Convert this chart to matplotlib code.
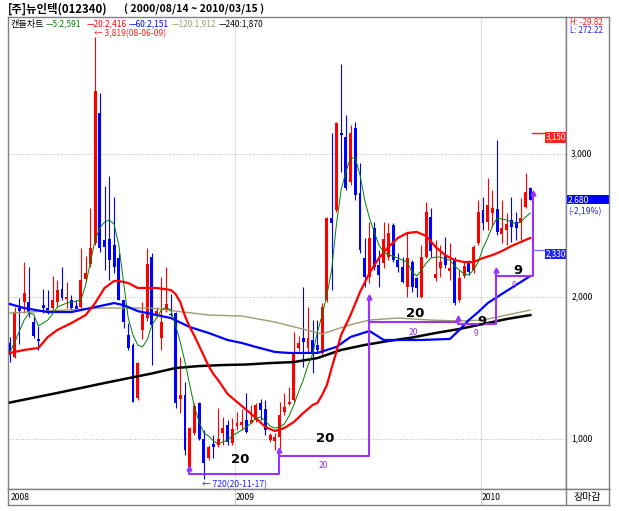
"""
Weekly candle chart of [주]뉴인텍(012340), 2008/02 - 2010/03,
with 5/20/60/120/240 moving averages and the purple cycle brackets.
Saves out.png (619x511).
"""

import pandas as pd
import matplotlib
matplotlib.use("Agg")
import matplotlib.pyplot as plt
from matplotlib.patches import Rectangle

plt.rcParams['font.family'] = ['Noto Sans CJK KR', 'DejaVu Sans']

# ---------------------------------------------------------------------------
# Data
# ---------------------------------------------------------------------------
TITLE = "[주]뉴인텍(012340)"
PERIOD = "( 2000/08/14 ~ 2010/03/15 )"

dates = pd.date_range("2008-02-04", periods=111, freq="W-MON")

opens = [1672, 1578, 1920, 1964, 1964, 1824, 1700, 1941, 1917, 1917,
         1964, 2051, 1980, 1976, 1930, 1929, 2121, 2229, 2378, 3286,
         2397, 2402, 2362, 2268, 1976, 1730, 1660, 1286, 1765, 1850,
         2279, 1870, 1706, 1905, 1880, 1882, 1280, 1309, 806, 1040,
         1255, 998, 864, 962, 958, 1040, 1098, 974, 1091, 1100,
         1133, 1115, 1133, 1250, 1208, 993, 988, 1016, 1192, 1245,
         1274, 1636, 1706, 1636, 1695, 1660, 1601, 1975, 2548, 2607,
         3150, 3121, 2806, 3180, 2724, 2268, 2139, 2478, 2221, 2233,
         2279, 2502, 2256, 2209, 2069, 2244, 2128, 1999, 2280, 2556,
         2130, 2198, 2285, 2180, 2257, 1976, 2144, 2245, 2187, 2374,
         2607, 2526, 2584, 2612, 2439, 2467, 2537, 2526, 2514, 2631,
         2760]
highs = [1719, 1929, 1990, 2245, 2210, 1859, 1790, 2050, 2045, 2144,
         2116, 2205, 2105, 2011, 1976, 2338, 2285, 2619, 3819, 3431,
         2776, 2846, 2701, 2303, 1976, 1812, 1672, 1543, 1964, 2340,
         2303, 1928, 2139, 2209, 2020, 1893, 1578, 1402, 1087, 1250,
         1262, 1063, 958, 1028, 1215, 1157, 1133, 1145, 1192, 1208,
         1320, 1238, 1255, 1278, 1274, 1045, 1040, 1262, 1320, 1367,
         1750, 1720, 2069, 1929, 1835, 1835, 1952, 2560, 3145, 3227,
         3630, 3274, 3203, 3227, 2934, 2408, 2525, 2525, 2326, 2525,
         2513, 2513, 2303, 2279, 2443, 2256, 2139, 2362, 2666, 2619,
         2397, 2362, 2420, 2374, 2280, 2187, 2245, 2257, 2362, 2678,
         2701, 2830, 2748, 3099, 2678, 2584, 2701, 2596, 2690, 2865,
         2772]
lows = [1543, 1571, 1670, 1882, 1859, 1707, 1625, 1882, 1878, 1905,
        1929, 1976, 1917, 1905, 1905, 1917, 2105, 2210, 2362, 2315,
        2186, 2116, 2163, 1976, 1777, 1625, 1263, 1274, 1700, 1830,
        1519, 1858, 1624, 1890, 1860, 1215, 1180, 888, 794, 1028,
        993, 720, 853, 864, 946, 958, 958, 958, 1063, 1063,
        1040, 1110, 1122, 1133, 1028, 981, 923, 930, 1168, 1238,
        1260, 1620, 1508, 1601, 1461, 1601, 1590, 1964, 2046, 2595,
        2876, 2747, 2782, 2677, 2303, 2069, 2092, 2186, 2069, 2198,
        2256, 2244, 2174, 2092, 1999, 2034, 1999, 1988, 2268, 2280,
        2110, 2140, 2200, 2116, 1940, 1965, 2130, 2150, 2163, 2362,
        2467, 2467, 2490, 2432, 2374, 2362, 2385, 2397, 2397, 2619,
        2678]
closes = [1590, 1894, 1900, 2027, 1894, 1723, 1690, 1917, 1882, 1976,
          2046, 1988, 2000, 1917, 1913, 2116, 2168, 2338, 3445, 2338,
          2345, 2257, 2210, 1976, 1824, 1637, 1263, 1531, 1880, 2230,
          1800, 1900, 1823, 1950, 1870, 1250, 1310, 923, 1075, 1231,
          998, 829, 946, 946, 998, 1075, 981, 1068, 1110, 1117,
          1052, 1133, 1238, 1203, 1063, 1028, 1012, 1168, 1227, 1262,
          1600, 1671, 1683, 1706, 1601, 1625, 1929, 2548, 2513, 3215,
          3133, 2759, 3145, 2712, 2326, 2139, 2408, 2209, 2151, 2401,
          2443, 2256, 2209, 2104, 2268, 2069, 2057, 2280, 2596, 2322,
          2160, 2245, 2222, 2200, 1953, 2128, 2215, 2175, 2350, 2596,
          2514, 2643, 2619, 2456, 2479, 2507, 2491, 2479, 2549, 2736,
          2680]

# moving averages (weekly MA5 read every week, longer ones at sampled weeks)
ma5 = [1611, 1681, 1758, 1835, 1884, 1877, 1793, 1814, 1835, 1877,
       1926, 1940, 1954, 1961, 1968, 1976, 2081, 2242, 2397, 2481,
       2523, 2537, 2509, 2362, 2102, 1849, 1730, 1660, 1646, 1695,
       1800, 1849, 1905, 1926, 1905, 1800, 1681, 1540, 1379, 1225,
       1119, 1042, 1021, 986, 965, 979, 993, 1021, 1042, 1063,
       1084, 1112, 1147, 1154, 1126, 1091, 1077, 1084, 1105, 1161,
       1239, 1330, 1414, 1519, 1597, 1751, 1870, 2011, 2186, 2502,
       2747, 2874, 2972, 2972, 2853, 2677, 2551, 2453, 2362, 2312,
       2291, 2284, 2270, 2256, 2242, 2172, 2144, 2186, 2235, 2270,
       2277, 2277, 2263, 2256, 2214, 2186, 2158, 2151, 2186, 2242,
       2340, 2411, 2495, 2551, 2544, 2537, 2523, 2509, 2523, 2558,
       2586]

ma20_wk = [0, 3, 6, 8, 10, 13, 16, 18, 20, 22, 23, 25, 27, 31, 34, 35, 36, 37,
           38, 39, 40, 41, 42, 43, 44, 46, 48, 50, 52, 54, 56, 58, 60, 62, 64,
           65, 66, 67, 68, 69, 70, 72, 74, 76, 78, 80, 82, 84, 86, 88, 90, 92,
           94, 96, 98, 100, 102, 104, 106, 108, 110]
ma20 = [1604, 1625, 1639, 1716, 1765, 1814, 1870, 1954, 2060, 2109, 2109, 2095,
        2060, 2060, 2046, 2018, 1961, 1863, 1786, 1723, 1653, 1582, 1512, 1456,
        1414, 1316, 1260, 1204, 1147, 1084, 1056, 1077, 1119, 1182, 1239, 1253,
        1309, 1379, 1498, 1611, 1730, 1870, 2032, 2165, 2270, 2347, 2411, 2446,
        2453, 2425, 2347, 2291, 2256, 2242, 2242, 2270, 2291, 2319, 2354, 2383,
        2411]

ma60_wk = [0, 3, 8, 13, 17, 20, 22, 24, 27, 31, 34, 38, 42, 46, 49, 52, 56, 59,
           65, 69, 72, 76, 78, 79, 87, 93, 95, 97, 99, 101, 104, 107, 110]
ma60 = [1947, 1919, 1891, 1891, 1919, 1940, 1954, 1940, 1898, 1870, 1849, 1786,
        1744, 1695, 1674, 1646, 1611, 1604, 1604, 1646, 1716, 1758, 1716, 1695,
        1695, 1702, 1765, 1835, 1891, 1954, 2018, 2081, 2144]

ma120_wk = [0, 8, 19, 30, 35, 42, 49, 56, 61, 66, 71, 76, 82, 89, 95, 100, 105, 110]
ma120 = [1884, 1898, 1919, 1919, 1898, 1870, 1863, 1821, 1779, 1737, 1793, 1835,
         1849, 1835, 1828, 1835, 1870, 1905]

ma240_wk = [0, 10, 20, 30, 35, 40, 45, 50, 55, 60, 65, 70, 75, 80, 85, 90, 95,
            100, 105, 110]
ma240 = [1256, 1323, 1393, 1460, 1498, 1512, 1519, 1523, 1533, 1540, 1568, 1625,
         1660, 1688, 1712, 1744, 1772, 1807, 1842, 1870]

MA_LEGEND = [("—5:2,591", '#008000'), ("—20:2,416", '#ff0000'),
             ("—60:2,151", '#0000ff'), ("—120:1,912", '#a09a70'),
             ("—240:1,870", '#000000')]

# cycle brackets: week position of each marked low, marker level, bracket base
cycle_wk = [37.8, 56.9, 75.9, 94.7, 102.7, 110.6]
cycle_mark = [796, 923, 1997, 1849, 2186, 2726]
cycle_base = [754, 883, 1821, 1807, 2144]
cycle_label = ["20", "20", "20", "9", "9"]
label_wk = [48.6, 66.6, 85.6, 99.8, 107.4]
label_price = [853, 1000, 1884, 1828, 2186]
small_label = ["20", "20", "9", "9"]
small_wk = [66.2, 85.2, 98.5, 106.6]
small_price = [811, 1744, 1737, 2074]

HIGH_NOTE = "← 3,819(08-06-09)"
LOW_NOTE = "← 720(20-11-17)"
TARGET_HI = 3150
TARGET_LO = 2330
LAST_PRICE = 2680
LAST_CHANGE = "(-2,19%)"
GRID_PRICES = [1000, 2000, 3000]

# ---------------------------------------------------------------------------
# Layout helpers (pixel frame of the 619x511 image)
# ---------------------------------------------------------------------------
W, H = 619, 511
XLIM = (-0.42, 117.55)
YLIM = (649, 3962)
UP, DOWN = '#ff0000', '#0000ff'
PURPLE = '#9933ff'
FRAME = '#808080'
SMALL = 6.2


def fx(px):
    return px / W


def fy(py):
    return 1 - py / H


def create_chart():
    fig = plt.figure(figsize=(W / 100, H / 100), dpi=100)
    fig.patch.set_facecolor('white')

    ax = fig.add_axes([fx(8), fy(489), (566 - 8) / W, (489 - 17) / H])
    ax_r = fig.add_axes([fx(566), fy(489), (609 - 566) / W, (489 - 17) / H])
    ax_b = fig.add_axes([fx(8), fy(505), (609 - 8) / W, (505 - 489) / H])

    for a in (ax, ax_r, ax_b):
        a.set_xticks([])
        a.set_yticks([])
        for s in a.spines.values():
            s.set_color(FRAME)
            s.set_linewidth(1.0)

    ax.set_xlim(*XLIM)
    ax.set_ylim(*YLIM)

    # grid
    for p in GRID_PRICES:
        ax.axhline(p, color='#bbbbbb', lw=0.7, ls=(0, (1, 1.5)), zorder=0)
    year_pos = []
    for year in (2009, 2010):
        first = int((dates.year == year).argmax())
        year_pos.append(first - 0.4)
    for xp in year_pos:
        ax.axvline(xp, color='#e0e0e0', lw=0.8, zorder=0)

    # candles
    wk = list(range(len(closes)))
    for i in wk:
        o, h, l, c = opens[i], highs[i], lows[i], closes[i]
        col = UP if c >= o else DOWN
        ax.vlines(i, l, h, color=col, lw=0.8, zorder=2)
        bottom = min(o, c)
        height = max(abs(c - o), 8)
        ax.bar(i, height, bottom=bottom, width=0.62, color=col,
               edgecolor=col, linewidth=0, zorder=3)

    # moving averages
    ax.plot(ma240_wk, ma240, color='#000000', lw=1.8, zorder=4)
    ax.plot(ma120_wk, ma120, color='#a09a70', lw=1.0, zorder=4)
    ax.plot(ma60_wk, ma60, color='#0000ff', lw=1.6, zorder=4)
    ax.plot(ma20_wk, ma20, color='#ff0000', lw=1.6, zorder=4)
    ax.plot(wk, ma5, color='#008000', lw=0.7, zorder=4)

    # cycle brackets
    for k in range(len(cycle_base)):
        xs = [cycle_wk[k], cycle_wk[k], cycle_wk[k + 1], cycle_wk[k + 1]]
        ys = [cycle_mark[k], cycle_base[k], cycle_base[k], cycle_mark[k + 1]]
        ax.plot(xs, ys, color=PURPLE, lw=1.5, zorder=5)
        ax.text(label_wk[k], label_price[k], cycle_label[k], ha='center',
                va='center', fontsize=9.5, fontweight='bold',
                family='DejaVu Sans', color='black', zorder=6)
    ax.plot(cycle_wk, cycle_mark, ls='none', marker='^', ms=3.5,
            color=PURPLE, zorder=6)
    for t, xw, p in zip(small_label, small_wk, small_price):
        ax.text(xw, p, t, ha='center', va='center', fontsize=SMALL,
                color=PURPLE, zorder=6)

    # target lines with their boxes
    ax.plot([cycle_wk[-1] - 0.2, 113.5], [TARGET_HI, TARGET_HI],
            color='#ff2020', lw=1.0, zorder=5)
    ax.text(115.5, TARGET_HI, f"{TARGET_HI:,}", ha='center', va='top',
            fontsize=SMALL - 0.4, color='white', zorder=6,
            bbox=dict(boxstyle='square,pad=0.12', fc='#ff2020', ec='none'))
    ax.plot([cycle_wk[-1], 113.5], [TARGET_LO, TARGET_LO],
            color='#7777ff', lw=1.0, zorder=5)
    ax.text(115.5, TARGET_LO, f"{TARGET_LO:,}", ha='center', va='top',
            fontsize=SMALL - 0.4, color='white', zorder=6,
            bbox=dict(boxstyle='square,pad=0.12', fc='#2020ff', ec='none'))

    # high / low notes
    hi_i = highs.index(max(highs))
    lo_i = lows.index(min(lows))
    ax.text(hi_i - 0.3, 3845, HIGH_NOTE, fontsize=SMALL, color='#ff2020',
            ha='left', va='center')
    ax.text(lo_i - 0.3, 680, LOW_NOTE, fontsize=SMALL, color='#2020ff',
            ha='left', va='center')

    # legend row
    fig.text(fx(10), fy(24), "캔들차트", fontsize=6.6, va='center')
    legend_x = [46, 87, 129, 172, 219]
    for (txt, col), lx in zip(MA_LEGEND, legend_x):
        fig.text(fx(lx), fy(24), txt, fontsize=6.0, color=col, va='center')

    # header
    fig.text(fx(8), fy(9), TITLE, fontsize=8.2, fontweight='bold', va='center')
    fig.text(fx(124), fy(9), PERIOD, fontsize=7.6, fontweight='bold',
             va='center')

    # right price panel
    ax_r.set_xlim(0, 1)
    ax_r.set_ylim(*YLIM)
    for p in GRID_PRICES:
        ax_r.text(0.12, p, f"{p:,}", fontsize=SMALL, va='center', ha='left')
    ax_r.text(0.1, 3926, "H: -29.82", fontsize=5.8, color='#ff2020',
              va='center')
    ax_r.text(0.1, 3870, "L: 272.22", fontsize=5.8, color='#2020ff',
              va='center')
    ax_r.add_patch(Rectangle((0, LAST_PRICE - 30), 1, 60, color='#0000ff',
                             lw=0))
    ax_r.text(0.05, LAST_PRICE, f"{LAST_PRICE:,}", fontsize=SMALL,
              color='white', va='center')
    ax_r.text(0.05, LAST_PRICE - 82, LAST_CHANGE, fontsize=SMALL,
              color='#2020ff', va='center')

    # bottom date strip
    ax_b.set_xlim(XLIM[0], XLIM[0] + (609 - 8) / 4.73)
    ax_b.set_ylim(0, 1)
    ax_b.text(0.1, 0.5, "2008", fontsize=SMALL, va='center')
    for xp, year in zip(year_pos, (2009, 2010)):
        ax_b.axvline(xp, color='#d0d0d0', lw=0.8)
        ax_b.text(xp + 0.2, 0.5, str(year), fontsize=SMALL, va='center')
    ax_b.axvline(XLIM[1], color=FRAME, lw=1.0)
    ax_b.text(XLIM[1] + 4.5, 0.5, "장마감", fontsize=7.2, va='center',
              ha='center')

    fig.savefig("out.png", dpi=100)
    plt.close(fig)


if __name__ == "__main__":
    create_chart()
